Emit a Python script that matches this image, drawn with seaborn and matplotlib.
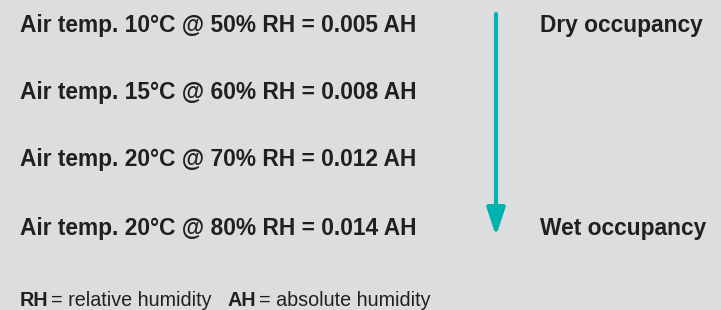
import seaborn as sns
from matplotlib import pyplot as plt

# values
temps = [10, 15, 20, 20]
rel_hum = [50, 60, 70, 80]
abs_hum = [0.005, 0.008, 0.012, 0.014]
row_baselines = [32, 99, 166, 235]
end_labels = ["Dry occupancy", "Wet occupancy"]
footer = [("RH", "= relative humidity"), ("AH", "= absolute humidity")]

bg = "#dcdddf"
ink = "#231f20"
teal = "#00b3b0"

sns.set_theme(style="white", rc={"axes.facecolor": bg, "figure.facecolor": bg})
plt.rcParams["font.family"] = ["Liberation Sans", "DejaVu Sans"]

fig = plt.figure(figsize=(7.21, 3.10), dpi=100)
ax = fig.add_axes([0, 0, 1, 1])
ax.set_xlim(0, 721)
ax.set_ylim(310, 0)
ax.set_axis_off()

for t, rh, ah, y in zip(temps, rel_hum, abs_hum, row_baselines):
    label = f"Air temp. {t}°C @ {rh}% RH = {ah:.3f} AH"
    ax.text(20, y, label, fontsize=16.4, fontweight="bold", color=ink, va="baseline", ha="left")

# end labels next to the first and last row
ax.text(540, row_baselines[0], end_labels[0], fontsize=16.4, fontweight="bold", color=ink, va="baseline")
ax.text(540, row_baselines[-1], end_labels[1], fontsize=16.4, fontweight="bold", color=ink, va="baseline")

# arrow from dry to wet
ax.annotate("", xy=(496, 236), xytext=(496, 14),
            arrowprops=dict(arrowstyle="-|>,head_length=1.2,head_width=0.4", lw=3,
                            color=teal, mutation_scale=14, shrinkA=0, shrinkB=0))

# footer key
xs = [(20, 51), (228, 259)]
for (abbr, desc), (x0, x1) in zip(footer, xs):
    ax.text(x0, 306, abbr, fontsize=14.2, fontweight="bold", color=ink, va="baseline")
    ax.text(x1, 306, desc, fontsize=14.2, color=ink, va="baseline")

fig.savefig("out.png", dpi=100, facecolor=bg)
